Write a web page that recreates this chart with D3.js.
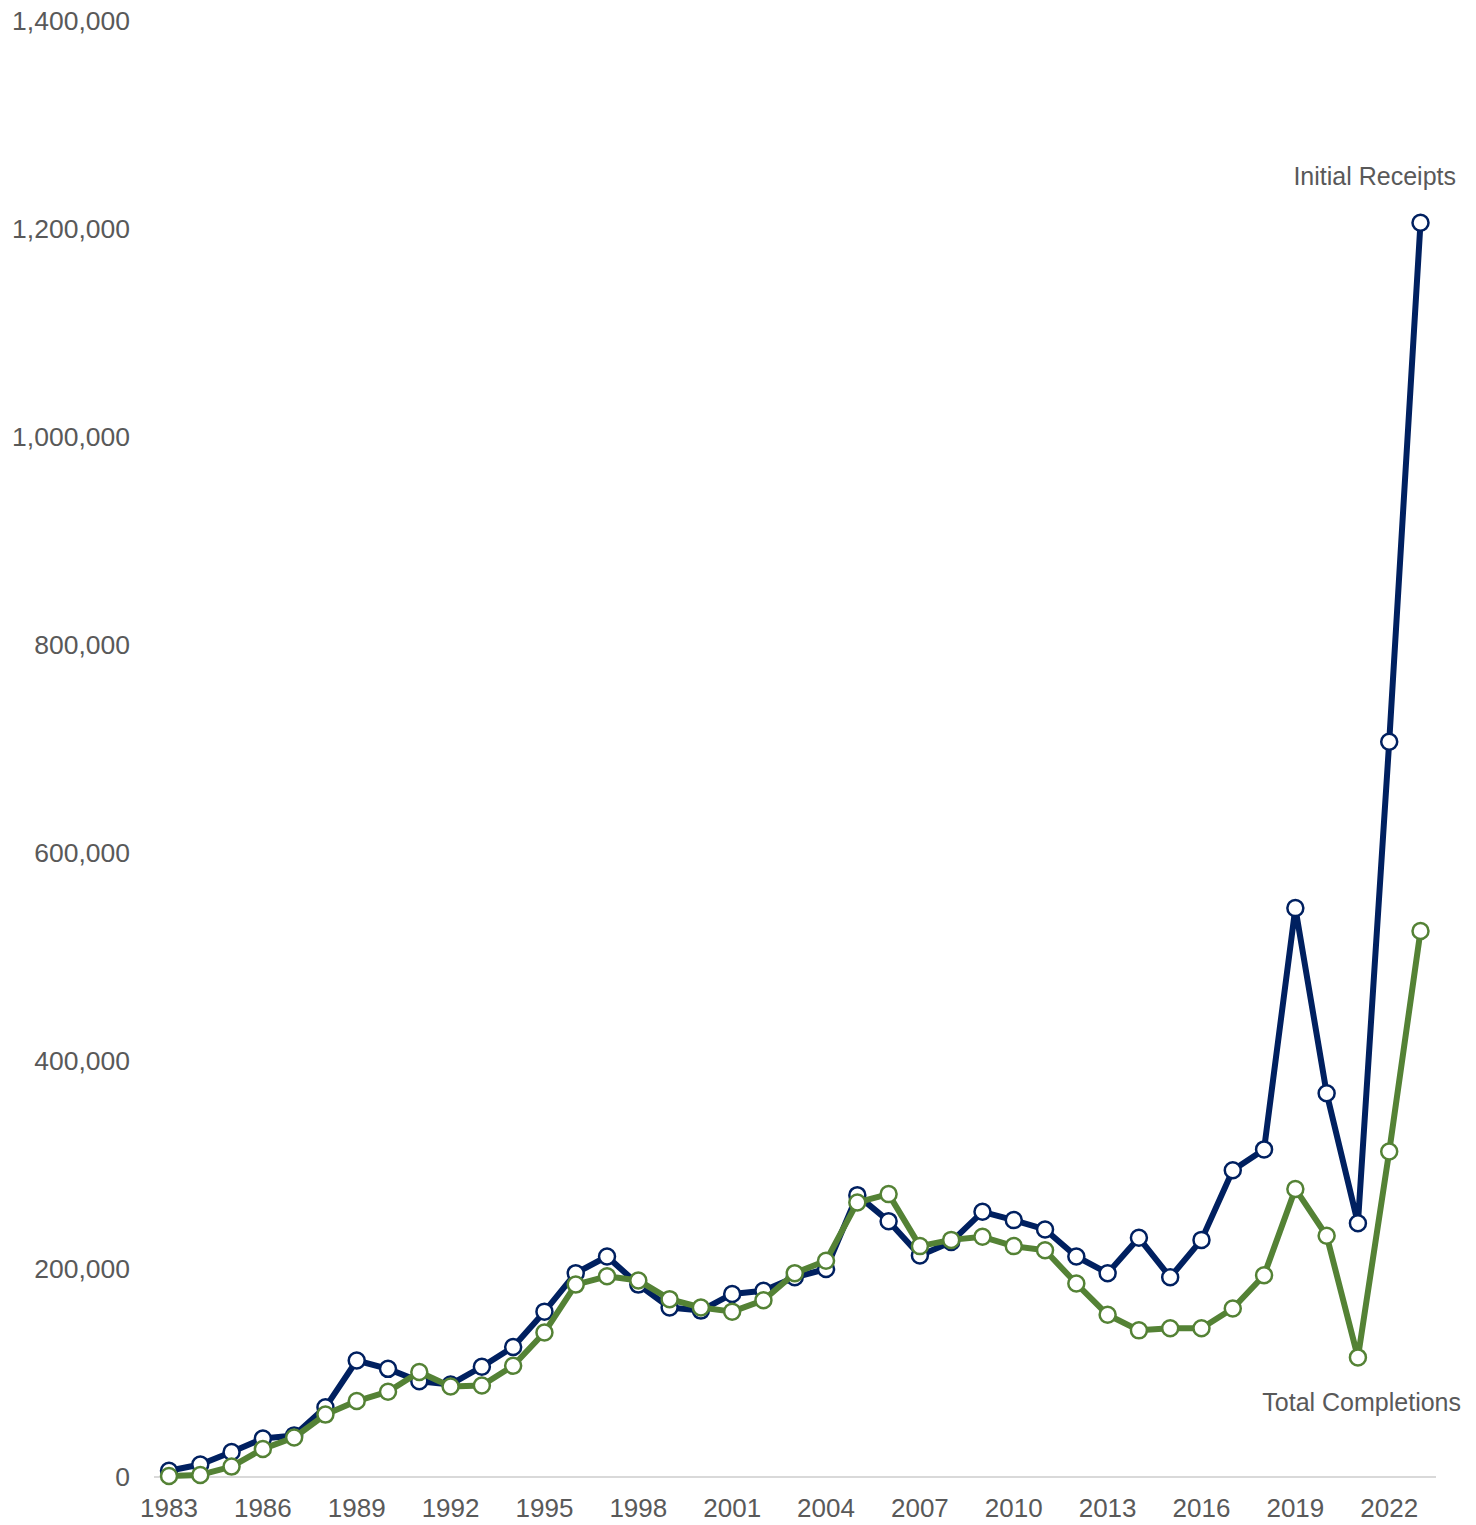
<!DOCTYPE html>
<html>
<head>
<meta charset="utf-8">
<script src="https://cdn.jsdelivr.net/npm/d3@7"></script>
<style>
  body { margin: 0; background: #fff; }
  text { font-family: "Liberation Sans", Arial, sans-serif; fill: #595959; }
</style>
</head>
<body>
<svg id="chart"></svg>
<script>
const years = d3.range(1983, 2024);

const initialReceipts = [
  6000, 12000, 24000, 37000, 40000, 67000, 112000, 104000, 92000, 89000,
  106000, 125000, 159000, 196000, 212000, 185000, 163000, 160000, 176000, 179000,
  192000, 200000, 271000, 246000, 213000, 226000, 255000, 247000, 238000, 212000,
  196000, 230000, 192000, 228000, 295000, 315000, 547000, 369000, 244000, 707000,
  1206000,
];

const totalCompletions = [
  1000, 2000, 10000, 27000, 38000, 60000, 73000, 82000, 101000, 87000,
  88000, 107000, 139000, 185000, 193000, 189000, 171000, 163000, 159000, 170000,
  196000, 208000, 264000, 272000, 222000, 228000, 231000, 222000, 218000, 186000,
  156000, 141000, 143000, 143000, 162000, 194000, 277000, 232000, 115000, 313000,
  525000,
];

const yTicks = [0, 200000, 400000, 600000, 800000, 1000000, 1200000, 1400000];
const xTicks = [1983, 1986, 1989, 1992, 1995, 1998, 2001, 2004, 2007, 2010, 2013, 2016, 2019, 2022];

const series = [
  { name: 'Initial Receipts', values: initialReceipts, color: '#002060' },
  { name: 'Total Completions', values: totalCompletions, color: '#548235' },
];

const svgWidth = 1476;
const svgHeight = 1525;

const svg = d3.select('#chart')
  .attr('width', svgWidth)
  .attr('height', svgHeight);

const x = d3.scaleLinear()
  .domain([1983, 2023])
  .range([169, 1420.5]);

const y = d3.scaleLinear()
  .domain([0, 1400000])
  .range([1477, 21]);

// x-axis line
svg.append('line')
  .attr('x1', 154)
  .attr('x2', 1436)
  .attr('y1', y(0))
  .attr('y2', y(0))
  .attr('stroke', '#d9d9d9')
  .attr('stroke-width', 2);

// y-axis labels
svg.append('g')
  .selectAll('text')
  .data(yTicks)
  .enter()
  .append('text')
  .attr('x', 130)
  .attr('y', d => y(d))
  .attr('dy', '0.35em')
  .attr('text-anchor', 'end')
  .attr('font-size', 26.5)
  .text(d => d3.format(',')(d));

// x-axis labels
svg.append('g')
  .selectAll('text')
  .data(xTicks)
  .enter()
  .append('text')
  .attr('x', d => x(d))
  .attr('y', 1508)
  .attr('dy', '0.35em')
  .attr('text-anchor', 'middle')
  .attr('font-size', 26)
  .text(d => d);

const line = d3.line()
  .x((d, i) => x(years[i]))
  .y(d => y(d));

// receipts first, completions on top
series.forEach((s) => {
  const g = svg.append('g');
  g.append('path')
    .datum(s.values)
    .attr('fill', 'none')
    .attr('stroke', s.color)
    .attr('stroke-width', 6)
    .attr('stroke-linejoin', 'round')
    .attr('d', line);

  g.selectAll('circle')
    .data(s.values)
    .enter()
    .append('circle')
    .attr('cx', (d, i) => x(years[i]))
    .attr('cy', d => y(d))
    .attr('r', 8)
    .attr('fill', '#fff')
    .attr('stroke', s.color)
    .attr('stroke-width', 2.5);
});

// series labels
svg.append('text')
  .attr('x', 1456)
  .attr('y', 176)
  .attr('dy', '0.35em')
  .attr('text-anchor', 'end')
  .attr('font-size', 25)
  .text(series[0].name);

svg.append('text')
  .attr('x', 1461)
  .attr('y', 1402)
  .attr('dy', '0.35em')
  .attr('text-anchor', 'end')
  .attr('font-size', 25)
  .text(series[1].name);
</script>
</body>
</html>
